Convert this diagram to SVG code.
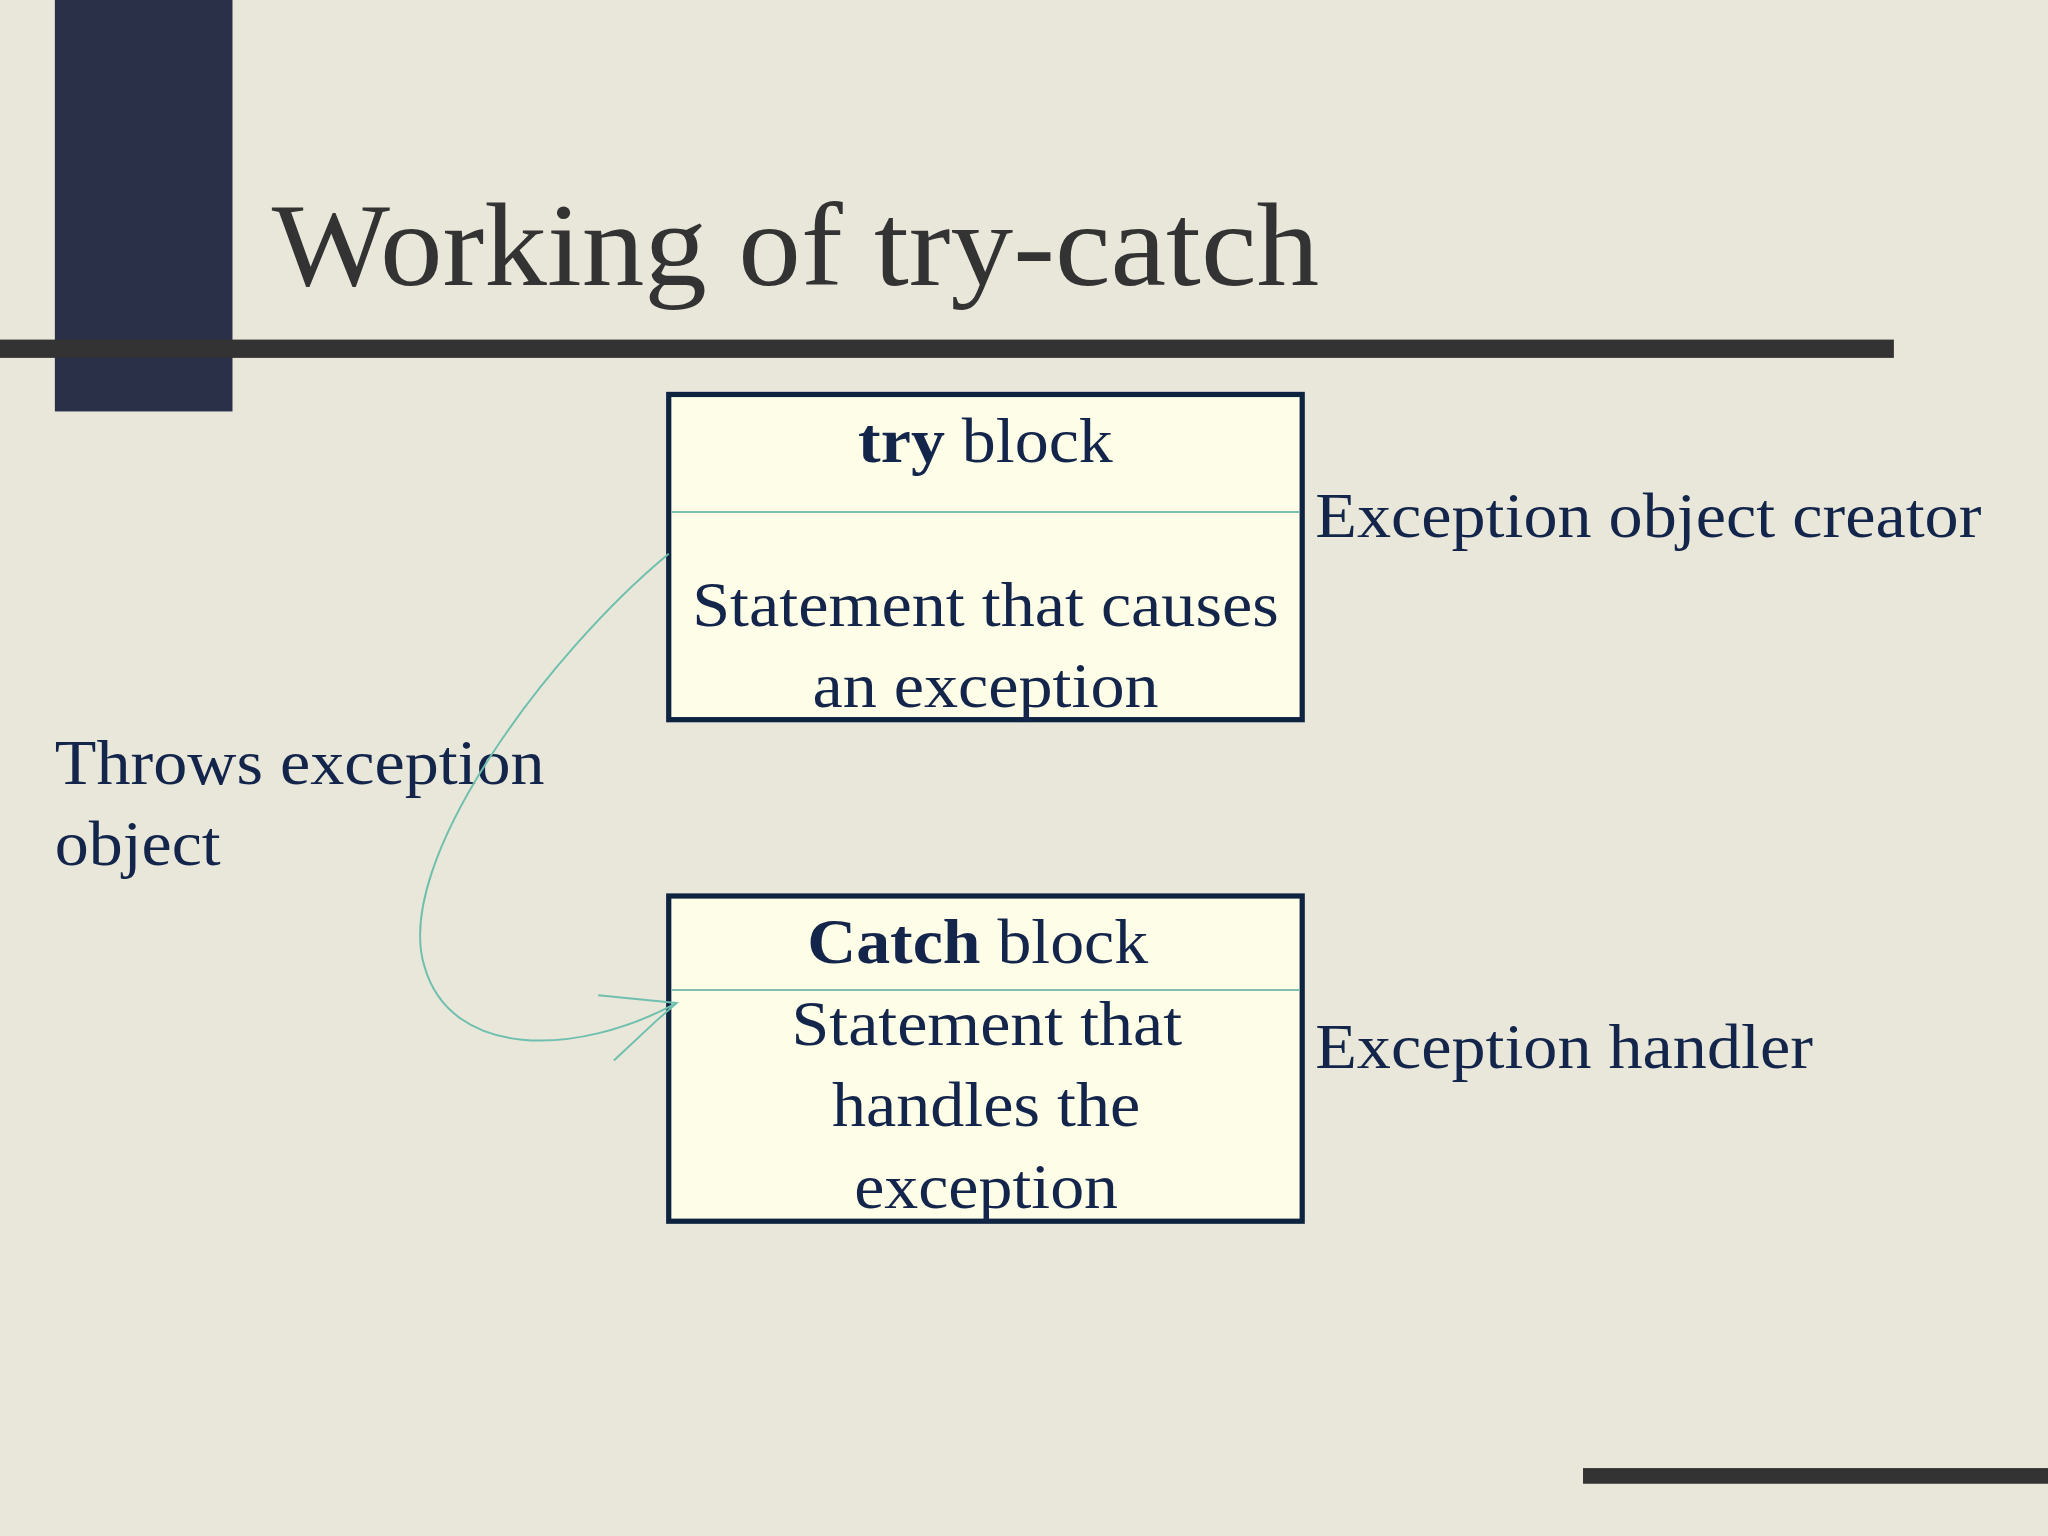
<svg xmlns="http://www.w3.org/2000/svg" width="2048" height="1536" viewBox="0 0 2048 1536">
<style>
.t{font-family:"Liberation Serif",serif;fill:#13254a;font-size:48px}
.box{fill:#fdfde8;stroke:#0d2340;stroke-width:4}
.div{stroke:#7fbfb0;stroke-width:1.5}
</style>
<g transform="scale(1.30612)">
<rect width="1568" height="1176" fill="#e8e7da"/>
<rect x="42" y="0" width="136" height="315" fill="#2b3049"/>
<rect x="0" y="260" width="1450" height="14" fill="#333"/>
<rect x="1212" y="1124" width="356" height="12" fill="#333"/>
<text x="208" y="218" font-family="Liberation Serif,serif" font-size="90" fill="#333" textLength="802" lengthAdjust="spacingAndGlyphs">Working of try-catch</text>
<g id="try">
<rect class="box" x="512" y="302" width="485" height="249"/>
<line class="div" x1="514" y1="392" x2="995" y2="392"/>
<text class="t" x="657" y="354" textLength="195" lengthAdjust="spacingAndGlyphs"><tspan font-weight="bold">try</tspan> block</text>
<text class="t" x="530" y="479" textLength="449" lengthAdjust="spacingAndGlyphs">Statement that causes</text>
<text class="t" x="622" y="541" textLength="265" lengthAdjust="spacingAndGlyphs">an exception</text>
</g>
<g id="catch">
<rect class="box" x="512" y="686" width="485" height="249"/>
<line class="div" x1="514" y1="758" x2="995" y2="758"/>
<text class="t" x="618" y="737" textLength="261" lengthAdjust="spacingAndGlyphs"><tspan font-weight="bold">Catch</tspan> block</text>
<text class="t" x="606" y="800" textLength="299" lengthAdjust="spacingAndGlyphs">Statement that</text>
<text class="t" x="637" y="862" textLength="236" lengthAdjust="spacingAndGlyphs">handles the</text>
<text class="t" x="654" y="925" textLength="202" lengthAdjust="spacingAndGlyphs">exception</text>
</g>
<text class="t" x="1007" y="411" textLength="510" lengthAdjust="spacingAndGlyphs">Exception object creator</text>
<text class="t" x="1007" y="818" textLength="381" lengthAdjust="spacingAndGlyphs">Exception handler</text>
<text class="t" x="42" y="600" textLength="375" lengthAdjust="spacingAndGlyphs">Throws exception</text>
<text class="t" x="42" y="662" textLength="127" lengthAdjust="spacingAndGlyphs">object</text>
<g id="connectors" fill="none" stroke="#6fbfae" stroke-width="1.5">
<path d="M512,424 C420,500 300,660 325,740 C345,810 440,810 518,768"/>
<path d="M458,762 L518,768 L502,782 L470,812"/>
</g>
</g>
</svg>
